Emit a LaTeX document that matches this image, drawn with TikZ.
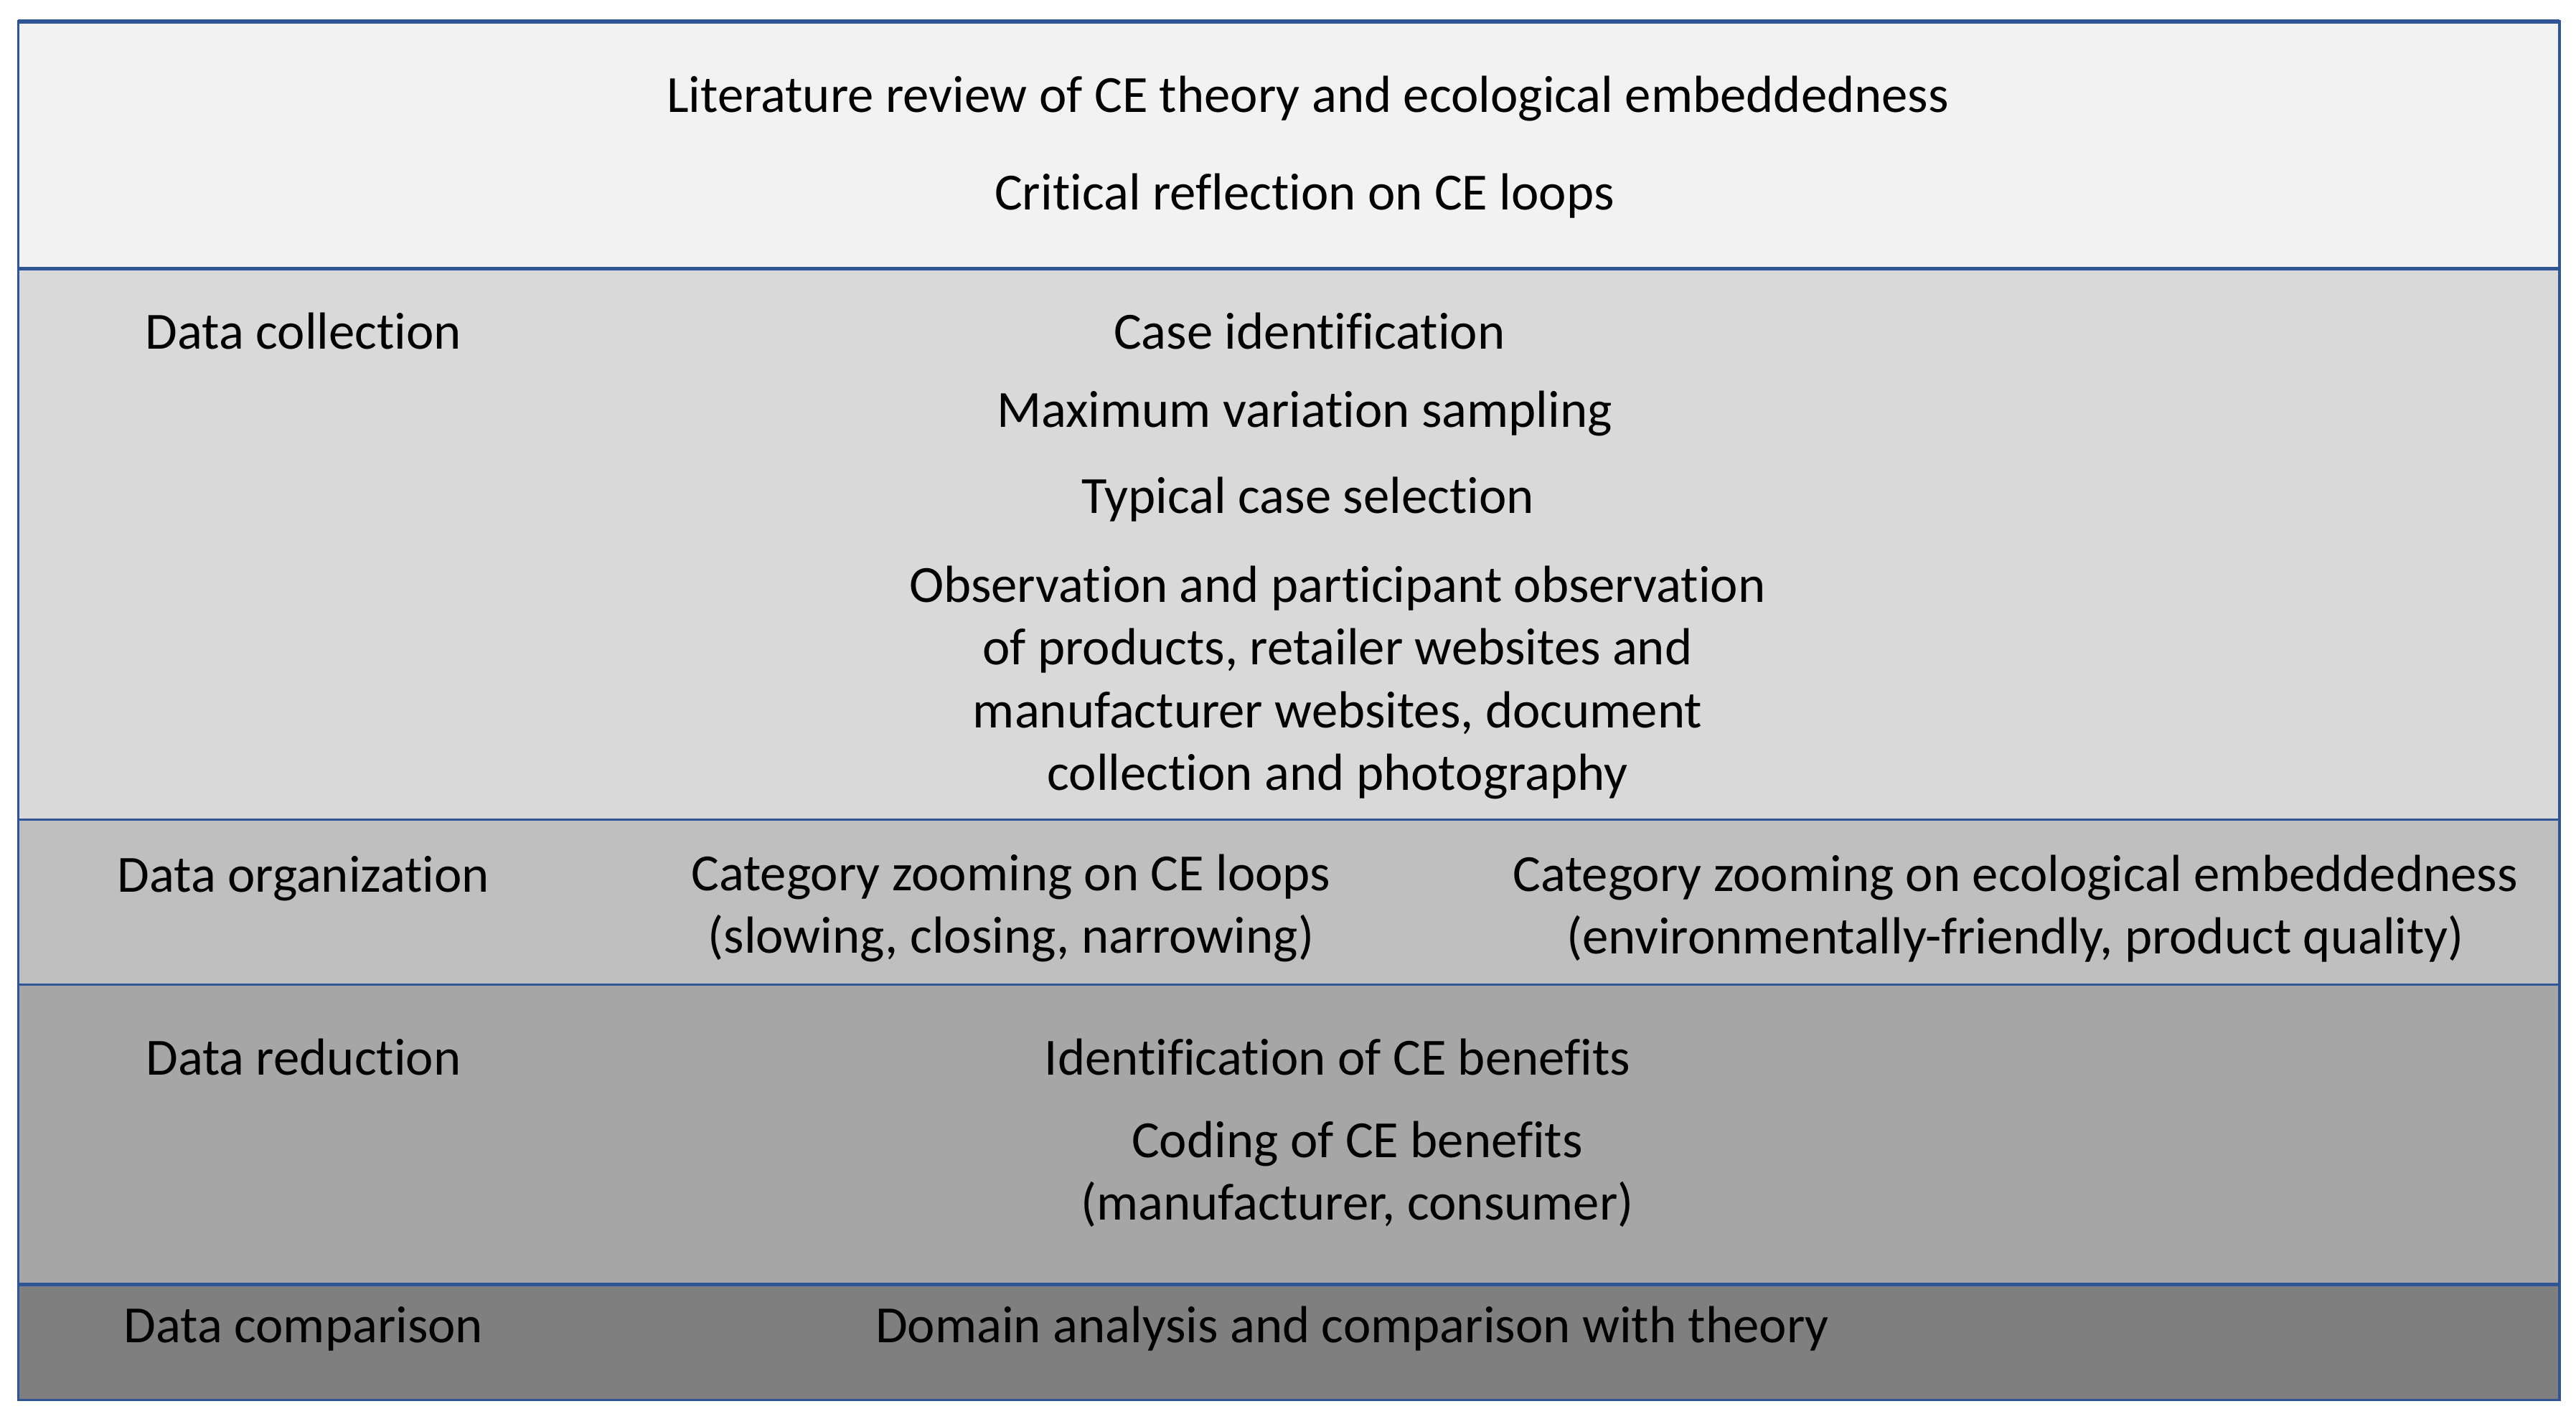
\documentclass[tikz,border=0pt]{standalone}
\usepackage{fontspec}
\setmainfont[Ligatures=NoCommon]{Carlito}
\definecolor{frameblue}{HTML}{2F5597}
\definecolor{band1}{HTML}{F2F2F2}
\definecolor{band2}{HTML}{D9D9D9}
\definecolor{band3}{HTML}{BFBFBF}
\definecolor{band4}{HTML}{A6A6A6}
\definecolor{band5}{HTML}{7F7F7F}
\begin{document}
\begin{tikzpicture}[x=0.22983mm,y=-0.22983mm,
  band/.style={draw=frameblue,line width=0.9pt},
  thickline/.style={draw=frameblue,line width=1.6pt},
  txt/.style={font=\fontsize{20.7}{24.8}\selectfont,align=center,inner sep=0pt,text=black}]
\useasboundingbox (0,0) rectangle (1562,860.2);
\fill[white] (0,0) rectangle (1562,860.2);
% bands
\path[band,fill=band1] (11,13) rectangle (1552,163);
\path[band,fill=band2] (11,163) rectangle (1552,497);
\path[band,fill=band3] (11,497) rectangle (1552,597);
\path[band,fill=band4] (11,597) rectangle (1552,779);
\path[band,fill=band5] (11,779) rectangle (1552,849);
\draw[thickline] (11,13) -- (1552,13);
\draw[thickline] (11,163) -- (1552,163);
\draw[thickline] (11,779) -- (1552,779);
% texts
\node[txt] (lit) at (793,60) {Literature review of CE theory and ecological embeddedness};
\node[txt] (crit) at (791,119) {Critical reflection on CE loops};
\node[txt] (dcol) at (184,201) {Data collection};
\node[txt] (case) at (794,201) {Case identification};
\node[txt] (maxv) at (791,251) {Maximum variation sampling};
\node[txt] (typ) at (793,303) {Typical case selection};
\node[txt] (obs) at (811,414) {Observation and participant observation\\of products, retailer websites and\\manufacturer websites, document\\collection and photography};
\node[txt] (dorg) at (184,533) {Data organization};
\node[txt] (czl) at (613,551) {Category zooming on CE loops\\(slowing, closing, narrowing)};
\node[txt] (cze) at (1222,551) {Category zooming on ecological embeddedness\\(environmentally-friendly, product quality)};
\node[txt] (dred) at (184,641) {Data reduction};
\node[txt] (ident) at (811,641) {Identification of CE benefits};
\node[txt] (code) at (823,712) {Coding of CE benefits\\(manufacturer, consumer)};
\node[txt] (dcomp) at (184,806) {Data comparison};
\node[txt] (dom) at (820,806) {Domain analysis and comparison with theory};
\end{tikzpicture}
\end{document}
